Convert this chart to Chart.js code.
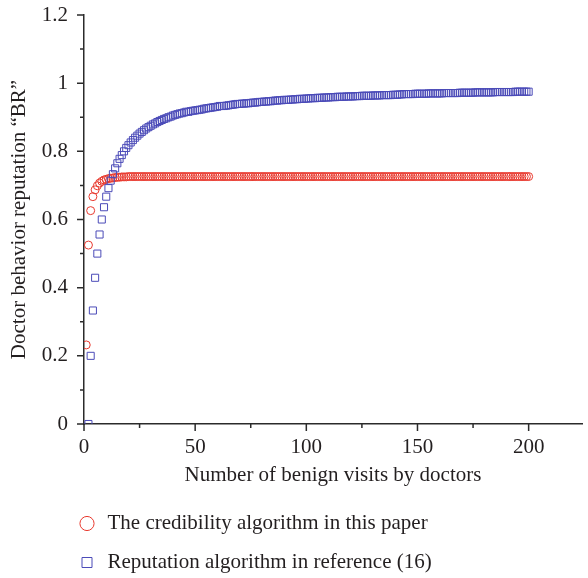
<!DOCTYPE html>
<html>
<head>
<meta charset="utf-8">
<script src="https://cdn.jsdelivr.net/npm/chart.js@4.4.1/dist/chart.umd.min.js"></script>
<style>
  html, body { margin: 0; padding: 0; background: #fff; }
</style>
</head>
<body>
<canvas id="brChart" width="588" height="578"></canvas>
<script>
// series names, as in the legend
const seriesNames = ["The credibility algorithm in this paper", "Reputation algorithm in reference (16)"];
const xTitle = "Number of benign visits by doctors";
const yTitle = "Doctor behavior reputation \u201cBR\u201d";

// axis ticks
const xTickValues = [0, 25, 50, 75, 100, 125, 150, 175, 200];
const yTickValues = [0, 0.1, 0.2, 0.3, 0.4, 0.5, 0.6, 0.7, 0.8, 0.9, 1, 1.1, 1.2];

// red circles, one per visit, starting at visit 1
const redFirstVisit = 1;
const redBR = [
  0.232, 0.525, 0.626, 0.667, 0.687, 0.699, 0.707, 0.712, 0.716, 0.718,
  0.720, 0.721, 0.722, 0.723, 0.724, 0.724, 0.725, 0.725, 0.725, 0.726,
  0.726, 0.726, 0.726, 0.726, 0.726, 0.726, 0.726, 0.726, 0.726, 0.726,
  0.726, 0.726, 0.726, 0.726, 0.726, 0.726, 0.726, 0.726, 0.726, 0.726,
  0.726, 0.726, 0.726, 0.726, 0.726, 0.726, 0.726, 0.726, 0.726, 0.726,
  0.726, 0.726, 0.726, 0.726, 0.726, 0.726, 0.726, 0.726, 0.726, 0.726,
  0.726, 0.726, 0.726, 0.726, 0.726, 0.726, 0.726, 0.726, 0.726, 0.726,
  0.726, 0.726, 0.726, 0.726, 0.726, 0.726, 0.726, 0.726, 0.726, 0.726,
  0.726, 0.726, 0.726, 0.726, 0.726, 0.726, 0.726, 0.726, 0.726, 0.726,
  0.726, 0.726, 0.726, 0.726, 0.726, 0.726, 0.726, 0.726, 0.726, 0.726,
  0.726, 0.726, 0.726, 0.726, 0.726, 0.726, 0.726, 0.726, 0.726, 0.726,
  0.726, 0.726, 0.726, 0.726, 0.726, 0.726, 0.726, 0.726, 0.726, 0.726,
  0.726, 0.726, 0.726, 0.726, 0.726, 0.726, 0.726, 0.726, 0.726, 0.726,
  0.726, 0.726, 0.726, 0.726, 0.726, 0.726, 0.726, 0.726, 0.726, 0.726,
  0.726, 0.726, 0.726, 0.726, 0.726, 0.726, 0.726, 0.726, 0.726, 0.726,
  0.726, 0.726, 0.726, 0.726, 0.726, 0.726, 0.726, 0.726, 0.726, 0.726,
  0.726, 0.726, 0.726, 0.726, 0.726, 0.726, 0.726, 0.726, 0.726, 0.726,
  0.726, 0.726, 0.726, 0.726, 0.726, 0.726, 0.726, 0.726, 0.726, 0.726,
  0.726, 0.726, 0.726, 0.726, 0.726, 0.726, 0.726, 0.726, 0.726, 0.726,
  0.726, 0.726, 0.726, 0.726, 0.726, 0.726, 0.726, 0.726, 0.726, 0.726
];

// blue squares, one per visit, starting at visit 2
const blueFirstVisit = 2;
const blueBR = [
  0, 0.2, 0.333, 0.429, 0.5, 0.556, 0.6, 0.636, 0.667, 0.692,
  0.714, 0.733, 0.75, 0.765, 0.778, 0.789, 0.8, 0.81, 0.818, 0.826,
  0.833, 0.84, 0.846, 0.852, 0.857, 0.862, 0.867, 0.871, 0.875, 0.879,
  0.882, 0.886, 0.889, 0.892, 0.895, 0.897, 0.9, 0.902, 0.905, 0.907,
  0.909, 0.911, 0.912, 0.914, 0.916, 0.916, 0.918, 0.919, 0.920, 0.921,
  0.922, 0.923, 0.925, 0.926, 0.927, 0.928, 0.929, 0.930, 0.931, 0.933,
  0.933, 0.933, 0.934, 0.935, 0.936, 0.937, 0.938, 0.939, 0.939, 0.940,
  0.940, 0.941, 0.941, 0.942, 0.943, 0.943, 0.944, 0.945, 0.945, 0.946,
  0.946, 0.947, 0.947, 0.948, 0.949, 0.949, 0.950, 0.950, 0.951, 0.951,
  0.951, 0.952, 0.952, 0.953, 0.953, 0.954, 0.954, 0.954, 0.955, 0.955,
  0.956, 0.956, 0.956, 0.957, 0.957, 0.957, 0.958, 0.958, 0.958, 0.959,
  0.959, 0.959, 0.960, 0.960, 0.960, 0.960, 0.961, 0.961, 0.961, 0.961,
  0.962, 0.962, 0.962, 0.963, 0.963, 0.963, 0.963, 0.963, 0.964, 0.964,
  0.964, 0.964, 0.965, 0.965, 0.965, 0.965, 0.965, 0.966, 0.966, 0.966,
  0.967, 0.967, 0.968, 0.968, 0.968, 0.968, 0.968, 0.969, 0.969, 0.969,
  0.969, 0.969, 0.969, 0.970, 0.970, 0.970, 0.970, 0.970, 0.970, 0.970,
  0.971, 0.971, 0.971, 0.971, 0.971, 0.971, 0.971, 0.972, 0.972, 0.972,
  0.972, 0.972, 0.972, 0.972, 0.973, 0.973, 0.973, 0.973, 0.973, 0.973,
  0.973, 0.973, 0.973, 0.974, 0.974, 0.974, 0.974, 0.974, 0.974, 0.974,
  0.974, 0.974, 0.975, 0.975, 0.975, 0.975, 0.975, 0.975, 0.975
];

const FONT = "'Liberation Serif', 'DejaVu Serif', serif";
const INK = '#231f20';
const AXIS = '#2b2b2b';
const RED = '#e8392e';
const BLUE = '#4b4bb8';

function toPoints(values, firstVisit) {
    return values.map((v, i) => ({x: firstVisit + i, y: v}));
}

// draws the outward tick marks, long on labelled ticks and short on the others
const tickMarks = {
    id: 'tickMarks',
    afterDraw(chart) {
        const {ctx, scales: {x, y}} = chart;
        ctx.save();
        ctx.strokeStyle = AXIS;
        ctx.lineWidth = 1.5;
        ctx.beginPath();
        x.ticks.forEach(t => {
            const px = x.getPixelForValue(t.value);
            const len = t.value % 50 === 0 ? 7 : 4;
            ctx.moveTo(px, x.top);
            ctx.lineTo(px, x.top + len);
        });
        y.ticks.forEach(t => {
            const py = y.getPixelForValue(t.value);
            const len = Math.round(t.value * 10) % 2 === 0 ? 7 : 4;
            ctx.moveTo(y.right, py);
            ctx.lineTo(y.right - len, py);
        });
        ctx.stroke();
        ctx.restore();
    }
};

// the legend sits under the plot, indented like the original
const legendPlace = {
    id: 'legendPlace',
    beforeDraw(chart) {
        chart.legend.left = 59;
        chart.legend.top = 495;
    }
};

const axisFont = {family: FONT, size: 21};

new Chart(document.getElementById('brChart'), {
    type: 'line',
    data: {
        datasets: [
            {
                label: seriesNames[0],
                data: toPoints(redBR, redFirstVisit),
                showLine: false,
                order: 1,
                pointStyle: 'circle',
                pointRadius: 4,
                pointBorderWidth: 1,
                borderWidth: 1,
                borderColor: RED,
                pointBorderColor: RED,
                backgroundColor: 'rgba(0,0,0,0)',
                pointBackgroundColor: 'rgba(0,0,0,0)'
            },
            {
                label: seriesNames[1],
                data: toPoints(blueBR, blueFirstVisit),
                showLine: false,
                order: 0,
                pointStyle: 'rect',
                pointRadius: 5,
                pointBorderWidth: 1,
                borderWidth: 1,
                borderColor: BLUE,
                pointBorderColor: BLUE,
                backgroundColor: 'rgba(0,0,0,0)',
                pointBackgroundColor: 'rgba(0,0,0,0)'
            }
        ]
    },
    options: {
        responsive: false,
        animation: false,
        layout: {padding: {top: 15, right: 0, bottom: 0, left: 0}},
        plugins: {
            tooltip: {enabled: false},
            legend: {
                position: 'bottom',
                align: 'start',
                labels: {
                    usePointStyle: true,
                    boxWidth: 20,
                    boxHeight: 10,
                    padding: 18,
                    color: INK,
                    font: axisFont,
                    sort: (a, b) => a.datasetIndex - b.datasetIndex
                }
            }
        },
        scales: {
            x: {
                type: 'linear',
                min: 0,
                max: 224,
                afterBuildTicks: s => { s.ticks = xTickValues.map(v => ({value: v})); },
                afterFit: s => { s.height = 66; },
                grid: {display: true, drawOnChartArea: false, drawTicks: true, tickLength: 7, color: 'rgba(0,0,0,0)'},
                border: {display: true, color: AXIS, width: 1.5},
                ticks: {
                    autoSkip: false,
                    maxRotation: 0,
                    padding: 4,
                    color: INK,
                    font: axisFont,
                    callback: v => (v % 50 === 0 ? String(v) : '')
                },
                title: {display: true, text: xTitle, color: INK, font: axisFont, padding: {top: 0, bottom: 2}}
            },
            y: {
                min: 0,
                max: 1.2,
                afterBuildTicks: s => { s.ticks = yTickValues.map(v => ({value: v})); },
                afterFit: s => { s.width = 84; },
                grid: {display: true, drawOnChartArea: false, drawTicks: true, tickLength: 16, color: 'rgba(0,0,0,0)'},
                border: {display: true, color: AXIS, width: 1.5},
                ticks: {
                    autoSkip: false,
                    padding: 0,
                    color: INK,
                    font: axisFont,
                    callback: v => (Math.round(v * 10) % 2 === 0 ? String(+v.toFixed(1)) : '')
                },
                title: {display: true, text: yTitle, color: INK, font: axisFont, padding: {top: 7, bottom: 0}}
            }
        }
    },
    plugins: [tickMarks, legendPlace]
});
</script>
</body>
</html>
